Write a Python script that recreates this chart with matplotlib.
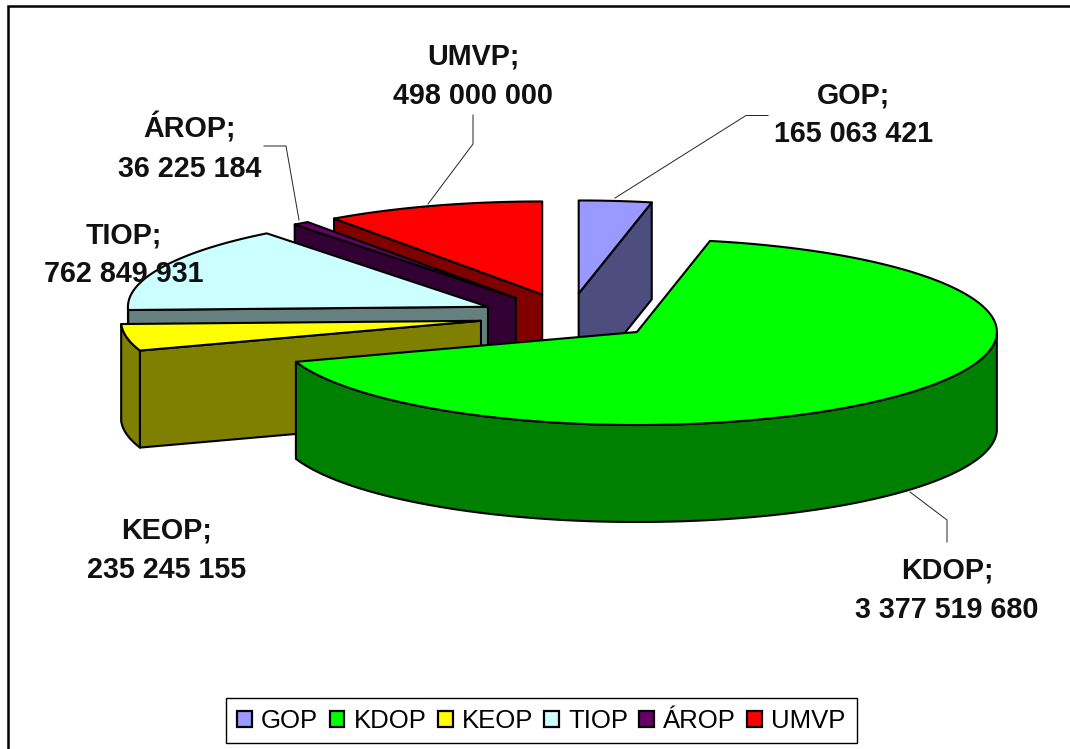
import matplotlib
matplotlib.use("Agg")
import matplotlib.pyplot as plt
import numpy as np
from matplotlib.patches import Patch, Polygon

names = ['GOP', 'KDOP', 'KEOP', 'TIOP', 'ÁROP', 'UMVP']
values = [165063421, 3377519680, 235245155, 762849931, 36225184, 498000000]
top_colors = ['#9999FF', '#00FF00', '#FFFF00', '#CCFFFF', '#660066', '#FF0000']
side_colors = ['#4D4D80', '#008000', '#808000', '#668080', '#330033', '#800000']

# where the labels sit, in pixels
label_pos = [(854, 115), (947, 590), (167, 550), (124, 255), (190, 148), (473, 76)]
leaders = [
    [(615, 198), (746, 115.5), (768, 115.5)],
    [(910, 492), (947, 520), (947, 542)],
    None,
    None,
    [(299, 220), (286, 146), (264, 146)],
    [(428, 204), (473, 144), (473, 115)],
]

# pie geometry in pixels
cx, cy = 569.5, 316.6
rx, ry = 360, 93
depth = 97
explode = 0.25

plt.rcParams['font.family'] = ['Liberation Sans', 'DejaVu Sans']

fig = plt.figure(figsize=(10.7, 7.49), dpi=100)
ax = fig.add_axes([0, 0, 1, 1])
ax.set_xlim(0, 1070)
ax.set_ylim(749, 0)
ax.axis('off')

# chart frame, only top and left show
ax.plot([8, 8, 1070], [749, 6, 6], color='black', lw=1.8, solid_joinstyle='miter')

fractions = np.array(values) / sum(values)
edges = np.concatenate([[0], np.cumsum(fractions)]) * 2 * np.pi


def draw_wedge(i):
    a0, a1 = edges[i], edges[i + 1]
    mid = (a0 + a1) / 2
    tx = cx + explode * rx * np.sin(mid)
    ty = cy - explode * ry * np.cos(mid)
    theta = np.linspace(a0, a1, 200)
    arc_x = tx + rx * np.sin(theta)
    arc_y = ty - ry * np.cos(theta)
    style = dict(edgecolor='black', lw=1.5, joinstyle='round')

    # outer wall, only the part facing the viewer
    front = np.cos(theta) < 0
    if front.any():
        xs = arc_x[front]
        ys = arc_y[front]
        wall = np.column_stack([np.r_[xs, xs[::-1]], np.r_[ys, ys[::-1] + depth]])
        ax.add_patch(Polygon(wall, facecolor=side_colors[i], **style))

    # cut faces
    for a, visible in [(a0, np.sin(a0) < -1e-6), (a1, np.sin(a1) > 1e-6)]:
        if visible:
            ox = tx + rx * np.sin(a)
            oy = ty - ry * np.cos(a)
            face = [(tx, ty), (ox, oy), (ox, oy + depth), (tx, ty + depth)]
            ax.add_patch(Polygon(face, facecolor=side_colors[i], **style))

    top = np.column_stack([np.r_[tx, arc_x], np.r_[ty, arc_y]])
    ax.add_patch(Polygon(top, facecolor=top_colors[i], **style))


# back to front
for i in [5, 4, 3, 2, 0, 1]:
    draw_wedge(i)

for line in leaders:
    if line is not None:
        ax.plot(*zip(*line), color='#222222', lw=0.7)

for name, value, pos in zip(names, values, label_pos):
    text = f"{name};\n{value:,}".replace(',', ' ')
    ax.text(pos[0], pos[1], text, ha='center', va='center', ma='center',
            fontsize=20.7, fontweight='bold', color='#111111', linespacing=1.5)

handles = [Patch(facecolor=c, edgecolor='black', lw=1.6) for c in top_colors]
leg = ax.legend(handles, names, ncol=6, loc='center',
                bbox_to_anchor=(541.5, 720.7), bbox_transform=ax.transData,
                fontsize=18.5, fancybox=False, framealpha=1, edgecolor='black',
                handlelength=0.58, handleheight=0.58, handletextpad=0.35,
                columnspacing=0.44, borderpad=0.42, borderaxespad=0)
leg.get_frame().set_linewidth(1.0)

fig.savefig("out.png", dpi=100)
